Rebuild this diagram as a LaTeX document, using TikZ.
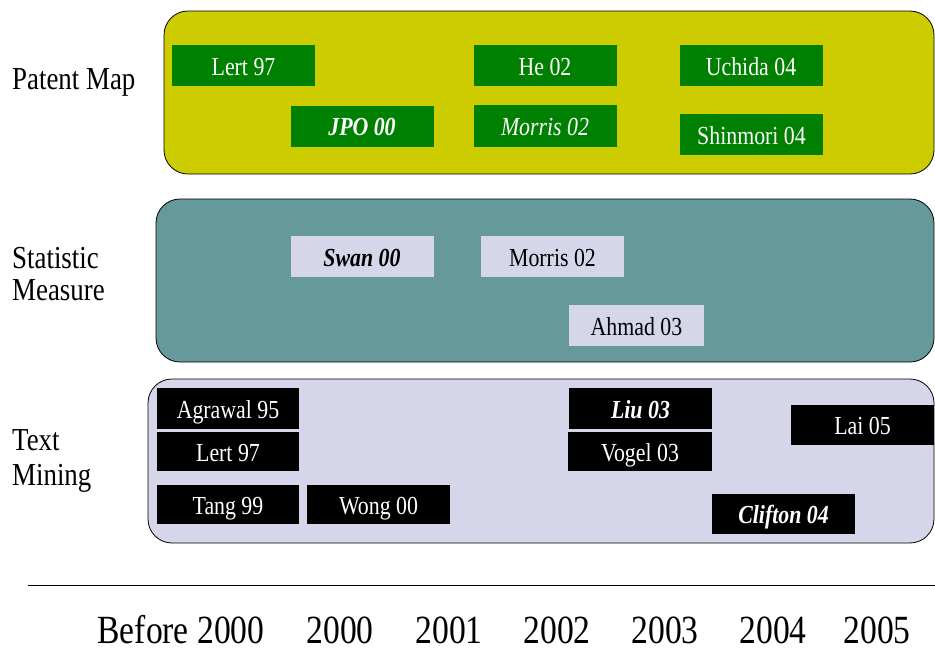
\documentclass[tikz,border=0pt]{standalone}
\usepackage{fontspec}
\setmainfont{Liberation Serif}
\newfontfamily\condfont[FakeStretch=0.84]{Liberation Serif}
\definecolor{olivey}{HTML}{CCCC00}
\definecolor{pgreen}{HTML}{008000}
\definecolor{tealb}{HTML}{669999}
\definecolor{lav}{HTML}{D6D6EA}
\tikzset{
  grp/.style={draw=black, line width=0.8pt, rounded corners=24pt},
  cell/.style={rectangle, inner sep=0pt, minimum width=143pt, minimum height=41pt,
    text height=19pt, text depth=0pt, font=\condfont\fontsize{26}{30}\selectfont},
  gbox/.style={cell, fill=pgreen, text=white},
  lbox/.style={cell, fill=lav, text=black},
  kbox/.style={cell, fill=black, text=white},
  side/.style={anchor=base west, inner sep=0pt, font=\condfont\fontsize{32}{37}\selectfont},
  year/.style={anchor=base, inner sep=0pt, font=\condfont\fontsize{40}{44}\selectfont},
}
\begin{document}
\begin{tikzpicture}[x=1pt, y=-1pt]
\useasboundingbox (0,0) rectangle (935,649);
% group boxes
\draw[grp, fill=olivey] (164,11) rectangle (934,174);
\draw[grp, fill=tealb] (156,199) rectangle (934,362);
\draw[grp, fill=lav] (148,379) rectangle (934,543);
% side labels
\node[side] (pm) at (12,89) {Patent Map};
\node[side] (sm1) at (12,268) {Statistic};
\node[side] (sm2) at (12,300) {Measure};
\node[side] (tm1) at (12,450) {Text};
\node[side] (tm2) at (12,485) {Mining};
% patent map
\node[gbox] (p1) at (243.5,65.5) {Lert 97};
\node[gbox] (p2) at (545,65.5) {He 02};
\node[gbox] (p3) at (751,65.5) {Uchida 04};
\node[gbox] (p4) at (362,126) {\bfseries\itshape JPO 00};
\node[gbox, minimum height=42pt] (p5) at (545,126) {\itshape Morris 02};
\node[gbox] (p6) at (751.5,134.5) {Shinmori 04};
% statistic measure
\node[lbox] (s1) at (362,256.5) {\bfseries\itshape Swan 00};
\node[lbox] (s2) at (552.5,256.5) {Morris 02};
\node[lbox, minimum width=135pt] (s3) at (636.5,325.5) {Ahmad 03};
% text mining
\node[kbox, minimum width=142pt] (t1) at (228,408.5) {Agrawal 95};
\node[kbox, minimum width=142pt, minimum height=39pt] (t2) at (228,451.5) {Lert 97};
\node[kbox, minimum width=142pt, minimum height=39pt] (t3) at (228,504.5) {Tang 99};
\node[kbox, minimum height=39pt] (t4) at (378.5,504.5) {Wong 00};
\node[kbox] (t5) at (640.5,408.5) {\bfseries\itshape Liu 03};
\node[kbox, minimum width=144pt, minimum height=39pt] (t6) at (640,451.5) {Vogel 03};
\node[kbox, minimum height=40pt] (t7) at (862.5,425) {Lai 05};
\node[kbox, minimum height=40pt] (t8) at (783.5,514) {\bfseries\itshape Clifton 04};
% axis
\coordinate (ax1) at (28,585);
\coordinate (ax2) at (935,585);
\draw[line width=0.8pt] (ax1) -- (ax2);
\node[year] (y0) at (181,643) {Before 2000};
\node[year] (y1) at (340,643) {2000};
\node[year] (y2) at (449,643) {2001};
\node[year] (y3) at (557,643) {2002};
\node[year] (y4) at (665,643) {2003};
\node[year] (y5) at (773,643) {2004};
\node[year] (y6) at (877,643) {2005};
\end{tikzpicture}
\end{document}
